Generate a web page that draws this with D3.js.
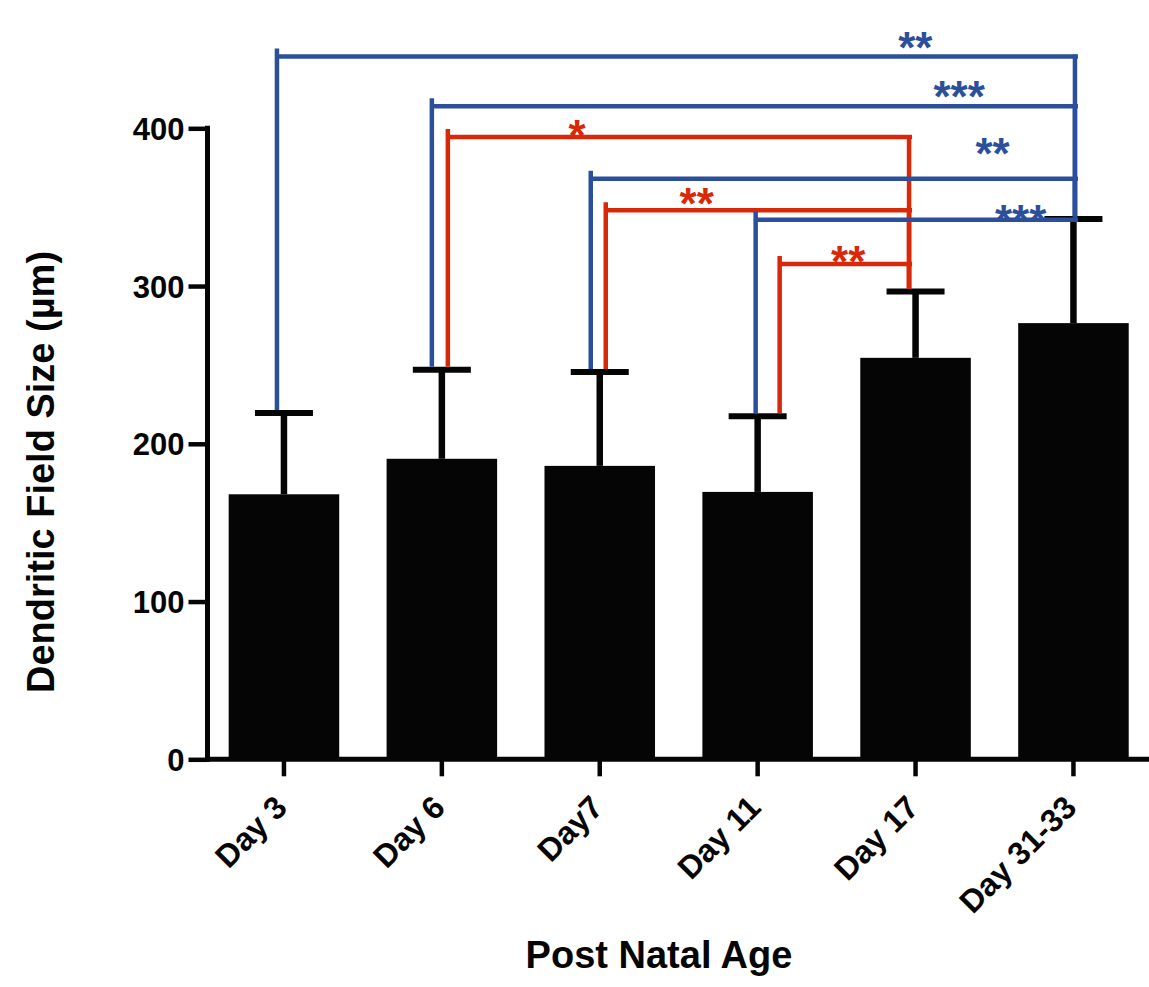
<!DOCTYPE html>
<html>
<head>
<meta charset="utf-8">
<script src="https://cdn.jsdelivr.net/npm/d3@7"></script>
<style>
body { margin: 0; background: #fff; }
text { font-family: "Liberation Sans", Arial, sans-serif; font-weight: bold; }
</style>
</head>
<body>
<div id="chart"></div>
<script>
// values
var ages = ["Day 3", "Day 6", "Day7", "Day 11", "Day 17", "Day 31-33"];
var meanSize = [168, 190.5, 186, 169.5, 254.5, 276.5];
var errSize = [51.5, 56.5, 59.5, 48, 42, 66];
var yTicks = [0, 100, 200, 300, 400];

// significance comparisons
var cmpFrom = ["Day 3", "Day 6", "Day 6", "Day7", "Day7", "Day 11", "Day 11"];
var cmpTo = ["Day 31-33", "Day 31-33", "Day 17", "Day 31-33", "Day 17", "Day 31-33", "Day 17"];
var cmpLevel = [445.5, 414, 394.5, 368, 348, 342, 314];
var cmpStars = ["**", "***", "*", "**", "**", "***", "**"];

// bracket layout (style only)
var leftNudge = [-7, -10, 6, -9, 6, -2, 22];
var labelFrac = [0.8, 0.82, 0.28, 0.83, 0.3, 0.83, 0.53];
var labelDy = [-11.7, -13, -4.3, -28.7, -10, -2, -5];

var W = 1149, H = 987;
var blue = "#2c4f9b", red = "#d82808", ink = "#050505";

var svg = d3.select("#chart").append("svg")
    .attr("width", W)
    .attr("height", H);

var x = d3.scaleBand()
    .domain(ages)
    .range([205, 1152.4])
    .paddingInner(0.3)
    .paddingOuter(0.15);

var y = d3.scaleLinear()
    .domain([0, 400])
    .range([759.3, 128.3]);

var axisX = 207.5;

// bars
svg.selectAll("rect.bar")
    .data(ages)
    .enter().append("rect")
    .attr("class", "bar")
    .attr("x", function(d) { return x(d); })
    .attr("width", x.bandwidth())
    .attr("y", function(d, i) { return y(meanSize[i]); })
    .attr("height", function(d, i) { return y(0) - y(meanSize[i]); })
    .attr("fill", ink);

// error bars (upper only)
var cx = function(d) { return x(d) + x.bandwidth() / 2; };
svg.selectAll("line.stem")
    .data(ages)
    .enter().append("line")
    .attr("x1", cx).attr("x2", cx)
    .attr("y1", function(d, i) { return y(meanSize[i]); })
    .attr("y2", function(d, i) { return y(meanSize[i] + errSize[i]); })
    .attr("stroke", ink).attr("stroke-width", 6.5);
svg.selectAll("line.cap")
    .data(ages)
    .enter().append("line")
    .attr("x1", function(d) { return cx(d) - 29; })
    .attr("x2", function(d) { return cx(d) + 29; })
    .attr("y1", function(d, i) { return y(meanSize[i] + errSize[i]); })
    .attr("y2", function(d, i) { return y(meanSize[i] + errSize[i]); })
    .attr("stroke", ink).attr("stroke-width", 6);

// axes
var yAxis = d3.axisLeft(y).tickValues(yTicks).tickSize(19).tickPadding(4);
var gy = svg.append("g")
    .attr("transform", "translate(" + axisX + ",0)")
    .call(yAxis);
gy.select(".domain").remove();
gy.append("line")
    .attr("x1", 0).attr("x2", 0)
    .attr("y1", y(400) - 2.5).attr("y2", y(0) + 2.5)
    .attr("stroke", ink).attr("stroke-width", 5);
gy.selectAll(".tick line").attr("stroke", ink).attr("stroke-width", 4.5);
gy.selectAll(".tick text")
    .attr("fill", ink)
    .style("font-size", "31px")
    .attr("dy", "0.36em");

var xAxis = d3.axisBottom(x).tickSize(17).tickPadding(0);
var gx = svg.append("g")
    .attr("transform", "translate(0," + y(0) + ")")
    .call(xAxis);
gx.select(".domain").remove();
gx.append("line")
    .attr("x1", axisX - 2.5).attr("x2", W + 5)
    .attr("y1", 0).attr("y2", 0)
    .attr("stroke", ink).attr("stroke-width", 5);
gx.selectAll(".tick line").attr("stroke", ink).attr("stroke-width", 4.5);
gx.selectAll(".tick text")
    .attr("fill", ink)
    .style("font-size", "32px")
    .attr("text-anchor", "end")
    .attr("y", 0).attr("dy", 0)
    .attr("transform", "translate(5,50) rotate(-45)");

// axis titles
svg.append("text")
    .attr("x", 659).attr("y", 968)
    .attr("text-anchor", "middle")
    .attr("fill", ink)
    .style("font-size", "38px")
    .text("Post Natal Age");
svg.append("text")
    .attr("transform", "translate(54,472) rotate(-90)")
    .attr("text-anchor", "middle")
    .attr("fill", ink)
    .style("font-size", "38px")
    .text("Dendritic Field Size (µm)");

// significance brackets
var starSize = 44;
cmpFrom.forEach(function(from, i) {
    var to = cmpTo[i];
    var col = to === "Day 17" ? red : blue;
    var xl = cx(from) + leftNudge[i];
    var xr = cx(to) + (to === "Day 17" ? -6.5 : 1.5);
    var ly = y(cmpLevel[i]);
    var fi = ages.indexOf(from), ti = ages.indexOf(to);
    var lb = y(meanSize[fi] + errSize[fi]) - 3;
    var rb = y(meanSize[ti] + errSize[ti]) - 3;
    var g = svg.append("g").attr("stroke", col).attr("stroke-width", 4.5).attr("fill", "none");
    g.append("line").attr("x1", xl).attr("x2", xl).attr("y1", ly - 8).attr("y2", lb);
    g.append("line").attr("x1", xl).attr("x2", xr + 3).attr("y1", ly).attr("y2", ly);
    g.append("line").attr("x1", xr).attr("x2", xr).attr("y1", ly - 2).attr("y2", rb);
    svg.append("text")
        .attr("x", xl + labelFrac[i] * (xr - xl))
        .attr("y", ly + labelDy[i] + 0.42 * starSize)
        .attr("text-anchor", "middle")
        .attr("fill", col)
        .style("font-size", starSize + "px")
        .text(cmpStars[i]);
});
</script>
</body>
</html>
